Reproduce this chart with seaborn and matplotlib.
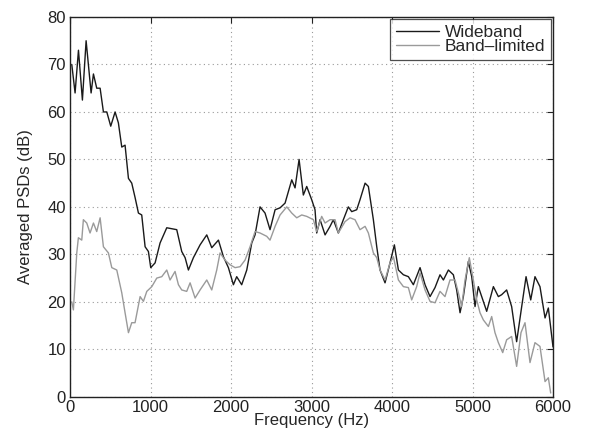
import matplotlib
matplotlib.use("Agg")
import matplotlib.pyplot as plt
import seaborn as sns
import pandas as pd

wide_freq = [21, 62, 104, 153, 199, 261, 290, 331, 373, 414, 456, 505, 559, 600, 642, 683, 725, 766, 807,
             849, 890, 932, 973, 1002, 1056, 1118, 1201, 1325, 1387, 1429, 1470, 1532, 1615, 1698, 1760, 1843,
             1905, 1967, 2029, 2070, 2132, 2195, 2257, 2298, 2360, 2422, 2484, 2547, 2609, 2671, 2754, 2795,
             2845, 2898, 2940, 3002, 3043, 3064, 3106, 3168, 3230, 3271, 3333, 3395, 3457, 3499, 3561, 3602,
             3665, 3706, 3768, 3810, 3851, 3913, 3975, 4029, 4079, 4141, 4203, 4265, 4348, 4410, 4472, 4534,
             4596, 4638, 4700, 4762, 4803, 4845, 4886, 4948, 4990, 5031, 5072, 5114, 5176, 5259, 5321, 5362,
             5424, 5486, 5548, 5611, 5665, 5723, 5776, 5838, 5901, 5942, 6000]
wide_db = [70, 64, 73, 62.5, 75, 64, 68, 65, 65, 60, 60, 57, 60, 57.7, 52.6, 53, 46, 45, 42,
           38.7, 38.3, 31.6, 30.6, 27.2, 28.2, 32.4, 35.6, 35.2, 30.6, 29.3, 26.7, 29.3, 32, 34.1, 31.4, 33,
           29.5, 27.2, 23.6, 25.3, 23.6, 26.7, 32.4, 34.1, 40, 38.7, 35.2, 39.4, 39.8, 40.8, 45.7, 44,
           50, 42.5, 44.3, 41.5, 39.4, 34.5, 37.3, 34.1, 35.9, 37.3, 34.5, 37.3, 40, 39, 39.4, 41.5,
           45, 44.3, 37.3, 31.6, 26.7, 24, 28.2, 32, 26.7, 25.7, 25.3, 23.6, 27.2, 23.6, 21.1, 23,
           25.7, 24.6, 26.7, 25.7, 22.5, 17.7, 21.1, 28.5, 25.3, 19, 23.2, 21.1, 18, 23.2, 21.1, 21.5,
           22.5, 19, 11.6, 19, 25.3, 20.4, 25.3, 23.2, 16.6, 18.7, 10.5]

band_freq = [21, 41, 83, 103, 145, 165, 207, 248, 290, 331, 373, 414, 476, 518, 580, 642, 683, 725, 766, 807,
             870, 911, 953, 1015, 1077, 1139, 1201, 1242, 1304, 1346, 1387, 1449, 1491, 1553, 1615, 1698,
             1760, 1822, 1863, 1925, 1988, 2050, 2112, 2174, 2236, 2298, 2360, 2443, 2484, 2547, 2609, 2692,
             2754, 2816, 2878, 2940, 3023, 3064, 3126, 3168, 3230, 3292, 3333, 3416, 3478, 3540, 3602, 3665,
             3706, 3768, 3810, 3851, 3913, 3975, 4017, 4079, 4141, 4203, 4244, 4306, 4348, 4410, 4472, 4534,
             4596, 4658, 4720, 4783, 4824, 4865, 4907, 4960, 5010, 5052, 5093, 5134, 5197, 5238, 5279, 5321,
             5375, 5424, 5486, 5548, 5602, 5652, 5714, 5776, 5838, 5901, 5942, 5971]
band_db = [20, 18.3, 30.3, 33.5, 33, 37.3, 36.6, 34.5, 36.6, 34.8, 37.7, 31.6, 30.3, 27.2, 26.7, 21.9, 17.7, 13.5, 15.6, 15.6,
           21.1, 20.1, 22.2, 23.2, 25, 25.3, 26.7, 24.6, 26.4, 23.6, 22.5, 22.2, 24, 20.8, 22.5, 24.6,
           22.5, 26.7, 30.3, 28.8, 27.8, 27.2, 27.4, 28.8, 31.6, 34.8, 34.5, 33.8, 33, 35.9, 38.3, 40,
           38.7, 37.7, 38.3, 38, 37.3, 34.8, 38, 36.6, 37.3, 37.3, 34.5, 36.9, 37.7, 37.3, 35.2, 35.9,
           34.5, 30.3, 29.3, 26.7, 24.6, 28.2, 29.5, 24.6, 23.2, 23, 20.4, 23.2, 26.1, 22.5, 20.1, 19.8,
           22.2, 21.1, 24.6, 24.6, 21.9, 19, 24.6, 29.3, 24.6, 20.4, 17.7, 16.2, 14.8, 16.9, 13.5, 11.4,
           9.3, 12, 12.7, 6.4, 13.5, 15.6, 7.2, 11.4, 10.6, 3.2, 4, 0.8]

x_ticks = [0, 1000, 2000, 3000, 4000, 5000, 6000]
y_ticks = [0, 10, 20, 30, 40, 50, 60, 70, 80]

sns.set_style("white")
plt.rcParams['font.family'] = ['Liberation Sans', 'DejaVu Sans']

fig = plt.figure(figsize=(5.94, 4.36), dpi=100)
ax = fig.add_axes([0.118, 0.09, 0.813, 0.871])

df_w = pd.DataFrame({"f": wide_freq, "db": wide_db})
df_b = pd.DataFrame({"f": band_freq, "db": band_db})
sns.lineplot(data=df_w, x="f", y="db", ax=ax, color="#1a1a1a", lw=1.0, label="Wideband", estimator=None, sort=False)
sns.lineplot(data=df_b, x="f", y="db", ax=ax, color="#9a9a9a", lw=1.0, label="Band\u2013limited", estimator=None, sort=False)

ax.set_xlim(0, 6000)
ax.set_ylim(0, 80)
ax.set_xticks(x_ticks)
ax.set_yticks(y_ticks)
ax.tick_params(direction="in", top=True, right=True, labelsize=12, length=4, colors="#222222")
ax.tick_params(axis="x", pad=2)
ax.tick_params(axis="y", pad=3)
ax.grid(True, linestyle=(0, (1, 3)), color="#999999", lw=0.8)
for s in ax.spines.values():
    s.set_color("#222222")
    s.set_linewidth(1.0)
ax.set_xlabel("Frequency (Hz)", fontsize=12, labelpad=-1)
ax.set_ylabel("Averaged PSDs (dB)", fontsize=12, labelpad=10)

leg = ax.legend(loc="upper right", fontsize=12.5, frameon=True, fancybox=False, handlelength=2.5,
                borderpad=0.35, labelspacing=-0.05, handletextpad=0.3, borderaxespad=0.1)
leg.get_frame().set_edgecolor("#222222")
leg.get_frame().set_linewidth(0.9)

fig.savefig("out.png", dpi=100)
